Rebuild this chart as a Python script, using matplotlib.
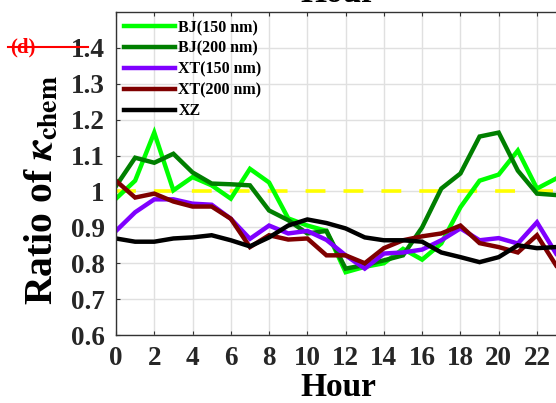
import numpy as np
import matplotlib.pyplot as plt
from matplotlib.lines import Line2D

plt.rcParams['font.family'] = ['Liberation Serif', 'DejaVu Serif']
plt.rcParams['font.weight'] = 'bold'
plt.rcParams['axes.labelweight'] = 'bold'
plt.rcParams['mathtext.fontset'] = 'stix'

hours = np.arange(24)
bj150 = [0.98, 1.03, 1.164, 1.003, 1.04, 1.017, 0.98, 1.063, 1.025, 0.925, 0.905, 0.89,
         0.775, 0.79, 0.80, 0.84, 0.81, 0.855, 0.956, 1.03, 1.047, 1.114, 1.008, 1.036]
bj200 = [1.015, 1.094, 1.08, 1.105, 1.053, 1.022, 1.02, 1.017, 0.947, 0.92, 0.883, 0.89,
         0.785, 0.795, 0.808, 0.822, 0.90, 1.008, 1.05, 1.153, 1.164, 1.058, 0.994, 0.99]
xt150 = [0.89, 0.942, 0.978, 0.978, 0.966, 0.963, 0.924, 0.868, 0.905, 0.883, 0.89, 0.865,
         0.822, 0.785, 0.827, 0.83, 0.838, 0.864, 0.897, 0.864, 0.87, 0.855, 0.914, 0.827]
xt200 = [1.03, 0.983, 0.994, 0.972, 0.958, 0.958, 0.924, 0.845, 0.878, 0.866, 0.869, 0.822,
         0.822, 0.80, 0.842, 0.864, 0.875, 0.883, 0.905, 0.856, 0.845, 0.83, 0.878, 0.794]
xz = [0.869, 0.86, 0.86, 0.869, 0.872, 0.878, 0.864, 0.847, 0.872, 0.905, 0.922, 0.912,
      0.897, 0.872, 0.864, 0.864, 0.86, 0.83, 0.817, 0.803, 0.817, 0.85, 0.842, 0.845]

series = [
    ('BJ(150 nm)', bj150, '#00ff00'),
    ('BJ(200 nm)', bj200, '#007f00'),
    ('XT(150 nm)', xt150, '#7f00ff'),
    ('XT(200 nm)', xt200, '#7f0000'),
    ('XZ', xz, '#000000'),
]

fig = plt.figure(figsize=(5.56, 4.03), dpi=100)
ax = fig.add_axes([0.2086, 0.1687, 0.826, 0.8015])

for name, vals, col in series:
    ax.plot(hours, vals, color=col, lw=3.2, label=name, solid_joinstyle='miter')
ax.axhline(1.0, color='#ffff00', lw=2.6, ls=(0, (5.5, 5)), zorder=1.5)

ax.set_xlim(0, 24)
ax.set_ylim(0.6, 1.5)
ax.set_xticks(np.arange(0, 24, 2))
ax.set_yticks([0.6, 0.7, 0.8, 0.9, 1.0, 1.1, 1.2, 1.3, 1.4])
ax.set_yticklabels(['0.6', '0.7', '0.8', '0.9', '1', '1.1', '1.2', '1.3', '1.4'])
ax.tick_params(direction='in', labelsize=19.5, length=3, width=0.8, color='#333333',
               top=True, right=False, pad=8, labelcolor='#262626')
ax.grid(True, color='#e0e0e0', lw=1)
ax.set_axisbelow(True)
for s in ['left', 'bottom', 'top']:
    ax.spines[s].set_color('#333333')
    ax.spines[s].set_linewidth(1)

ax.set_xlabel('Hour', fontsize=24, fontweight='bold')
ax.xaxis.set_label_coords(0.484, -0.115)
ax.set_ylabel(r'Ratio of $\kappa_{\mathbf{chem}}$', fontsize=28.5, fontweight='bold')
ax.yaxis.set_label_coords(-0.12, 0.45)

ax.legend(loc='upper left', frameon=False, handlelength=3.2,
          handletextpad=0.2, labelspacing=0.3, borderaxespad=0.1,
          prop={'weight': 'bold', 'size': 11.5})

# bits of the neighbouring panels
fig.text(338 / 556, 1 - 2 / 403, 'Hour', fontsize=24, fontweight='bold',
         ha='center', va='baseline')
fig.text(10 / 556, 1 - 47 / 403, '(d)', fontsize=15, fontweight='bold', color='red',
         ha='left', va='center')
fig.add_artist(Line2D([8 / 556, 88 / 556], [1 - 47 / 403, 1 - 47 / 403],
                      color='red', lw=1.5, transform=fig.transFigure))

fig.savefig('out.png', dpi=100)
